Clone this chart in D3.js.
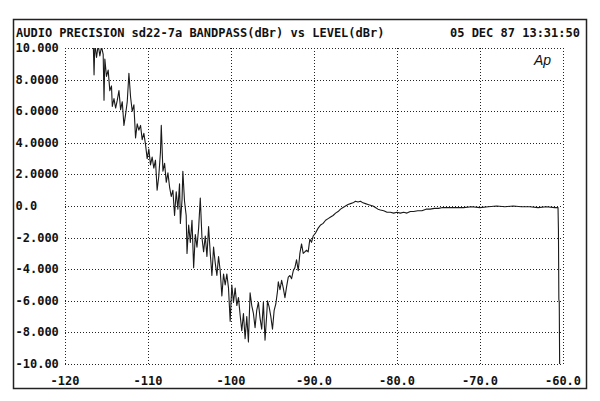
<!DOCTYPE html>
<html>
<head>
<meta charset="utf-8">
<script src="https://cdn.jsdelivr.net/npm/d3@7"></script>
<style>
  html, body { margin:0; padding:0; background:#fff; }
  svg text { font-family:"DejaVu Sans Mono", "Liberation Mono", monospace; font-weight:bold; fill:#111; }
</style>
</head>
<body>
<svg id="chart" width="600" height="401"></svg>
<script>
/*****************************************************************
 *  Audio Precision plot  ·  BANDPASS(dBr) vs LEVEL(dBr)
 *****************************************************************/
const titleText = "AUDIO PRECISION sd22-7a BANDPASS(dBr) vs LEVEL(dBr)";
const dateText  = "05 DEC 87 13:31:50";

const xTicks      = [-120, -110, -100, -90, -80, -70, -60];
const xTickLabels = ["-120", "-110", "-100", "-90.0", "-80.0", "-70.0", "-60.0"];
const yTicks      = [10, 8, 6, 4, 2, 0, -2, -4, -6, -8, -10];
const yTickLabels = ["10.000", "8.0000", "6.0000", "4.0000", "2.0000", "0.0",
                     "-2.000", "-4.000", "-6.000", "-8.000", "-10.00"];

// level (dBr)
const level = [
  -116.6,-116.5,-116.4,-116.2,-116.0,-115.8,-115.6,-115.4,-115.3,-115.2,
  -115.0,-114.8,-114.6,-114.4,-114.3,-114.1,-113.9,-113.7,-113.5,-113.3,
  -113.1,-112.9,-112.7,-112.5,-112.3,-112.1,-111.9,-111.7,-111.5,-111.3,
  -111.1,-110.9,-110.7,-110.5,-110.3,-110.1,-109.9,-109.7,-109.5,-109.3,
  -109.1,-108.9,-108.7,-108.5,-108.4,-108.2,-108.0,-107.8,-107.6,-107.4,
  -107.2,-107.0,-106.8,-106.6,-106.4,-106.2,-106.1,-105.9,-105.8,-105.6,
  -105.4,-105.3,-105.1,-104.9,-104.7,-104.5,-104.3,-104.1,-103.9,-103.7,
  -103.5,-103.3,-103.1,-102.9,-102.7,-102.5,-102.3,-102.1,-101.9,-101.7,
  -101.5,-101.3,-101.1,-100.9,-100.7,-100.5,-100.3,-100.1,-99.9,-99.7,
  -99.5,-99.3,-99.1,-98.9,-98.7,-98.5,-98.3,-98.1,-97.9,-97.7,
  -97.5,-97.3,-97.1,-96.9,-96.7,-96.5,-96.3,-96.1,-95.9,-95.7,
  -95.6,-95.4,-95.2,-95.0,-94.8,-94.6,-94.4,-94.3,-94.1,-93.9,
  -93.7,-93.5,-93.3,-93.1,-92.9,-92.7,-92.5,-92.3,-92.1,-91.9,
  -91.7,-91.5,-91.3,-91.1,-90.9,-90.7,-90.5,-90.3,-90.1,-89.8,
  -89.5,-89.2,-88.9,-88.6,-88.3,-88.0,-87.7,-87.4,-87.1,-86.8,
  -86.5,-86.2,-85.9,-85.6,-85.3,-85.0,-84.7,-84.4,-84.1,-83.8,
  -83.5,-83.2,-82.9,-82.6,-82.3,-82.0,-81.6,-81.2,-80.8,-80.4,
  -80.0,-79.6,-79.2,-78.8,-78.4,-78.0,-77.5,-77.0,-76.5,-76.0,
  -75.5,-75.0,-74.5,-74.0,-73.0,-72.0,-71.0,-70.0,-69.0,-68.0,
  -67.0,-66.0,-65.0,-64.0,-63.0,-62.0,-61.0,-60.6,-60.55,-60.5,
  -60.45,-60.4
];
// bandpass (dBr)
const bandpass = [
  10.4,8.3,10.3,9.4,10.2,9.5,10.1,9.6,6.7,9.3,
  8.2,8.6,7.3,7.6,6.3,6.8,6.2,6.7,7.3,6.1,
  6.6,5.1,5.8,6.6,8.4,6.9,6.0,6.4,4.3,5.2,
  4.8,5.1,4.2,4.6,3.9,3.0,3.6,2.6,3.1,2.4,
  2.9,1.0,1.9,3.4,5.1,2.2,2.7,1.5,2.1,1.2,
  0.6,1.0,-0.6,0.9,-0.2,1.4,-1.1,0.4,2.2,0.3,
  -0.6,-3.0,-1.2,-2.3,-0.9,-3.9,-1.8,-2.6,-1.4,0.5,
  -2.0,-2.9,-1.9,-3.2,-1.3,-3.0,-4.4,-2.6,-3.6,-4.4,
  -3.2,-4.1,-5.7,-4.3,-5.0,-4.3,-5.2,-7.3,-5.0,-6.1,
  -5.2,-6.3,-5.8,-6.9,-7.9,-6.8,-8.4,-7.0,-8.6,-5.5,
  -6.3,-6.8,-7.7,-6.6,-6.1,-7.1,-7.8,-6.1,-8.5,-6.9,
  -6.0,-6.4,-7.0,-7.8,-6.6,-6.2,-5.4,-4.8,-5.3,-4.7,
  -5.2,-5.8,-5.1,-4.5,-4.4,-4.6,-4.1,-3.9,-3.4,-4.1,
  -3.0,-2.4,-3.0,-2.9,-2.8,-2.9,-2.1,-2.3,-1.9,-1.7,
  -1.4,-1.2,-1.1,-0.9,-0.8,-0.7,-0.6,-0.45,-0.35,-0.2,
  -0.1,0.0,0.1,0.15,0.2,0.3,0.25,0.3,0.2,0.15,
  0.1,0.05,0.0,-0.1,-0.2,-0.25,-0.3,-0.4,-0.4,-0.45,
  -0.4,-0.45,-0.4,-0.45,-0.35,-0.35,-0.3,-0.3,-0.2,-0.2,
  -0.15,-0.15,-0.1,-0.1,-0.1,-0.1,-0.05,-0.1,-0.05,0.0,
  -0.05,0.0,-0.05,-0.05,-0.1,-0.05,-0.1,-0.1,-1.5,-5.9,
  -6.1,-10.5
];

/* ---------- scales ------------------------------------------ */
const svg = d3.select("#chart");
const x = d3.scaleLinear().domain([-120, -60]).range([65, 563]);
const y = d3.scaleLinear().domain([-10, 10]).range([364, 48]);

/* ---------- outer frame + header ---------------------------- */
svg.append("rect")
   .attr("x", 13.5).attr("y", 19.5)
   .attr("width", 573).attr("height", 369)
   .attr("fill", "none").attr("stroke", "#222").attr("stroke-width", 1.5);

svg.append("text").attr("x", 16).attr("y", 37).attr("font-size", 12).text(titleText);
svg.append("text").attr("x", 580).attr("y", 37).attr("font-size", 12)
   .attr("text-anchor", "end").text(dateText);

/* ---------- dotted grid ------------------------------------- */
const grid = svg.append("g")
   .attr("stroke", "#222").attr("stroke-width", 1).attr("stroke-dasharray", "1,2");

grid.selectAll("line.h").data(yTicks).enter().append("line")
   .attr("x1", x(-120)).attr("x2", x(-60))
   .attr("y1", d => Math.round(y(d)) + 0.5).attr("y2", d => Math.round(y(d)) + 0.5);

grid.selectAll("line.v").data(xTicks).enter().append("line")
   .attr("y1", y(10)).attr("y2", y(-10))
   .attr("x1", d => Math.round(x(d)) + 0.5).attr("x2", d => Math.round(x(d)) + 0.5);

/* ---------- tick labels ------------------------------------- */
svg.append("g").selectAll("text").data(yTicks).enter().append("text")
   .attr("x", 15.5).attr("y", d => y(d) + 4).attr("font-size", 12)
   .text((d, i) => yTickLabels[i]);

svg.append("g").selectAll("text").data(xTicks).enter().append("text")
   .attr("x", d => x(d)).attr("y", 385).attr("font-size", 12)
   .attr("text-anchor", "middle")
   .text((d, i) => xTickLabels[i]);

/* ---------- Ap logo ----------------------------------------- */
svg.append("text")
   .attr("x", 551).attr("y", 65)
   .attr("text-anchor", "end")
   .style("font-family", "'Liberation Sans', sans-serif")
   .style("font-weight", "normal").style("font-style", "italic")
   .attr("font-size", 14).text("Ap");

/* ---------- trace ------------------------------------------- */
svg.append("defs").append("clipPath").attr("id", "plotClip")
   .append("rect")
   .attr("x", x(-120)).attr("y", y(10))
   .attr("width", x(-60) - x(-120)).attr("height", y(-10) - y(10));

const pts = level.map((lv, i) => [lv, bandpass[i]]);
svg.append("path")
   .datum(pts)
   .attr("clip-path", "url(#plotClip)")
   .attr("fill", "none")
   .attr("stroke", "#1a1a1a")
   .attr("stroke-width", 1.1)
   .attr("stroke-linejoin", "round")
   .attr("d", d3.line().x(d => x(d[0])).y(d => y(d[1])));
</script>
</body>
</html>
